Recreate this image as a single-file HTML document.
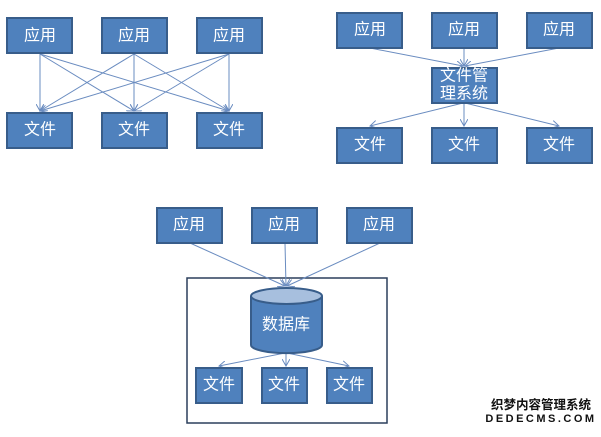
<!DOCTYPE html>
<html><head><meta charset="utf-8"><style>
body{margin:0;background:#fff;width:601px;height:432px;overflow:hidden}
text{font-family:"Liberation Sans","Noto Sans CJK SC",sans-serif;fill:#fff;font-size:16px;text-anchor:middle;dominant-baseline:central}
.b{fill:#4f81bd;stroke:#385d8a;stroke-width:2}
line{stroke:#6a8cc0;stroke-width:1;fill:none;marker-end:url(#a)}
</style></head><body>
<svg width="601" height="432" xmlns="http://www.w3.org/2000/svg">
<defs><marker id="a" markerWidth="8" markerHeight="8" refX="7" refY="4" orient="auto" markerUnits="userSpaceOnUse"><path d="M0,0 L7,4 L0,8" fill="none" stroke="#6a8cc0"/></marker></defs>
<!-- diagram 1 -->
<g>
<line x1="40" y1="54" x2="40" y2="111"/><line x1="40" y1="54" x2="134" y2="111"/><line x1="40" y1="54" x2="229" y2="111"/>
<line x1="134" y1="54" x2="40" y2="111"/><line x1="134" y1="54" x2="134" y2="111"/><line x1="134" y1="54" x2="229" y2="111"/>
<line x1="229" y1="54" x2="40" y2="111"/><line x1="229" y1="54" x2="134" y2="111"/><line x1="229" y1="54" x2="229" y2="111"/>
<rect class="b" x="7" y="18" width="65" height="35"/><text x="40" y="36">应用</text>
<rect class="b" x="102" y="18" width="65" height="35"/><text x="134" y="36">应用</text>
<rect class="b" x="197" y="18" width="65" height="35"/><text x="229" y="36">应用</text>
<rect class="b" x="7" y="113" width="65" height="35"/><text x="40" y="130">文件</text>
<rect class="b" x="102" y="113" width="65" height="35"/><text x="134" y="130">文件</text>
<rect class="b" x="197" y="113" width="65" height="35"/><text x="229" y="130">文件</text>
</g>
<!-- diagram 2 -->
<g>
<line x1="370" y1="48" x2="463" y2="66"/><line x1="464" y1="48" x2="464" y2="66"/><line x1="559" y1="48" x2="465" y2="66"/>
<line x1="463" y1="103" x2="370" y2="126"/><line x1="464" y1="103" x2="464" y2="126"/><line x1="465" y1="103" x2="559" y2="126"/>
<rect class="b" x="337" y="13" width="65" height="35"/><text x="370" y="30">应用</text>
<rect class="b" x="432" y="13" width="65" height="35"/><text x="464" y="30">应用</text>
<rect class="b" x="527" y="13" width="65" height="35"/><text x="559" y="30">应用</text>
<rect class="b" x="432" y="68" width="65" height="35"/><text x="464" y="76">文件管</text><text x="464" y="94">理系统</text>
<rect class="b" x="337" y="128" width="65" height="35"/><text x="370" y="145">文件</text>
<rect class="b" x="432" y="128" width="65" height="35"/><text x="464" y="145">文件</text>
<rect class="b" x="527" y="128" width="65" height="35"/><text x="559" y="145">文件</text>
</g>
<!-- diagram 3 -->
<g>
<rect x="187" y="278" width="200" height="145" fill="none" stroke="#2b3f5c" stroke-width="1.5"/>
<line x1="190" y1="243" x2="285" y2="286"/><line x1="285" y1="243" x2="286" y2="286"/><line x1="380" y1="243" x2="287" y2="286"/>
<line x1="285" y1="353" x2="219" y2="366"/><line x1="286" y1="353" x2="286" y2="366"/><line x1="287" y1="353" x2="349" y2="366"/>
<rect class="b" x="157" y="208" width="65" height="35"/><text x="189" y="225">应用</text>
<rect class="b" x="252" y="208" width="65" height="35"/><text x="284" y="225">应用</text>
<rect class="b" x="347" y="208" width="65" height="35"/><text x="379" y="225">应用</text>
<path class="b" d="M251,296 L251,345 A35,8 0 0 0 322,345 L322,296"/>
<ellipse cx="286.5" cy="296" rx="35.5" ry="8" fill="#a7bfde" stroke="#385d8a" stroke-width="2"/>
<text x="286" y="325">数据库</text>
<rect class="b" x="196" y="368" width="46" height="35"/><text x="219" y="385">文件</text>
<rect class="b" x="262" y="368" width="45" height="35"/><text x="284" y="385">文件</text>
<rect class="b" x="327" y="368" width="45" height="35"/><text x="349" y="385">文件</text>
</g>
<text x="541" y="405" style="fill:#111;font-size:12.5px;font-weight:bold">织梦内容管理系统</text>
<text x="541" y="419" style="fill:#111;font-size:11px;font-weight:bold;letter-spacing:2.5px">DEDECMS.COM</text>
</svg>
</body></html>
